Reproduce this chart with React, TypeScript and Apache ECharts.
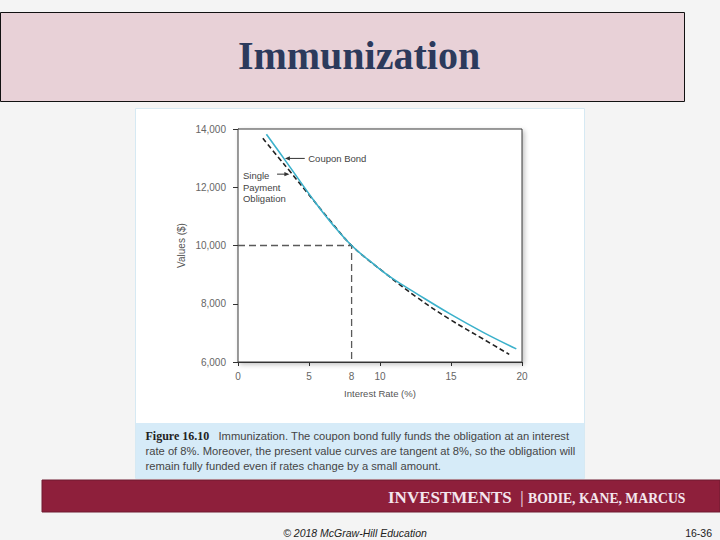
import React, { useEffect, useRef } from "react";
import * as echarts from "echarts";

// ---- Data ----
const couponRates = [2.0, 3.3, 5.5, 6.6, 8.0, 9.6, 10.9, 12.6, 14.9, 17.3, 19.6];
const couponValues = [13820, 12940, 11440, 10760, 10000, 9340, 8860, 8340, 7660, 7010, 6450];
const obligationRates = [1.75, 2.8, 3.6, 4.9, 6.5, 8.0, 10.2, 12.6, 14.9, 17.3, 19.1];
const obligationValues = [13680, 13050, 12580, 11800, 10850, 10000, 9110, 8220, 7470, 6780, 6260];
const refRates = [0, 8, 8];
const refValues = [10000, 10000, 6000];
const xLabelValues = [0, 5, 8, 10, 15, 20];
const xTickValues = [0, 5, 10, 15, 20];
const yMin = 6000;
const yMax = 14000;
const yStep = 2000;

// annotation anchors (data coordinates)
const couponArrowTip = [3.3, 12990];
const couponArrowTail = [4.7, 12990];
const obligationArrowTail = [2.75, 12450];
const obligationArrowTip = [3.62, 12450];
const obligationLabelAnchor = [0.35, 12390];

const SANS = "'Liberation Sans', Arial, sans-serif";
const SERIF = "'Liberation Serif', 'Times New Roman', serif";

export default function App() {
  const ref = useRef<HTMLDivElement>(null);
  useEffect(() => {
    const chart = echarts.init(ref.current!, undefined, { renderer: "svg" });

    const capFont = `11.2px ${SANS}`;
    const staticGraphics: any[] = [
      // title box
      { type: "rect", id: "titleBox", z: -10, shape: { x: 0.5, y: 12.5, width: 684, height: 89 }, style: { fill: "#e8d1d7", stroke: "#111", lineWidth: 1 } },
      { type: "text", id: "title", z: -9, x: 359, y: 55.5, style: { text: "Immunization", font: `bold 40px ${SERIF}`, fill: "#2c3a5c", align: "center", verticalAlign: "middle" } },
      // figure panel
      { type: "rect", id: "panel", z: -10, shape: { x: 135.5, y: 108.5, width: 449, height: 370 }, style: { fill: "#ffffff", stroke: "#d6e9f3", lineWidth: 1 } },
      { type: "rect", id: "caption", z: -9, shape: { x: 136, y: 423, width: 448, height: 55 }, style: { fill: "#d6ebf8" } },
      { type: "text", id: "figNum", z: -8, x: 145.5, y: 436, style: { text: "Figure 16.10", font: `bold 12px ${SERIF}`, fill: "#222", align: "left", verticalAlign: "middle" } },
      { type: "text", id: "cap1", z: -8, x: 218.5, y: 436.2, style: { text: "Immunization. The coupon bond fully funds the obligation at an interest", font: capFont, fill: "#454545", align: "left", verticalAlign: "middle" } },
      { type: "text", id: "cap2", z: -8, x: 145.5, y: 451.2, style: { text: "rate of 8%. Moreover, the present value curves are tangent at 8%, so the obligation will", font: capFont, fill: "#454545", align: "left", verticalAlign: "middle" } },
      { type: "text", id: "cap3", z: -8, x: 145.5, y: 466.2, style: { text: "remain fully funded even if rates change by a small amount.", font: capFont, fill: "#454545", align: "left", verticalAlign: "middle" } },
      // footer bar
      { type: "rect", id: "footer", z: -10, shape: { x: 42, y: 480, width: 678, height: 32 }, style: { fill: "#8e1f3b", stroke: "#6e1a30", lineWidth: 1 } },
      { type: "text", id: "inv", z: -8, x: 388, y: 497.3, style: { text: "INVESTMENTS", font: `bold 17px ${SERIF}`, fill: "#f4e6ee", align: "left", verticalAlign: "middle" } },
      { type: "text", id: "bar", z: -8, x: 522, y: 497.3, style: { text: "|", font: `17px ${SERIF}`, fill: "#f4e6ee", align: "center", verticalAlign: "middle" } },
      { type: "text", id: "authors", z: -8, x: 528, y: 498.4, style: { text: "BODIE, KANE, MARCUS", font: `bold 13.7px ${SERIF}`, fill: "#f4e6ee", align: "left", verticalAlign: "middle" } },
      // bottom line
      { type: "text", id: "copy", z: -8, x: 355, y: 533, style: { text: "© 2018 McGraw-Hill Education", font: `italic 10.5px ${SANS}`, fill: "#222", align: "center", verticalAlign: "middle" } },
      { type: "text", id: "page", z: -8, x: 712, y: 533, style: { text: "16-36", font: `10.5px ${SANS}`, fill: "#222", align: "right", verticalAlign: "middle" } },
    ];

    const pair = (xs: number[], ys: number[]) => xs.map((x, i) => [x, ys[i]]);

    chart.setOption({
      animation: false,
      backgroundColor: "#f4f4f4",
      grid: {
        left: 238, top: 129, width: 284, height: 233,
        show: true, backgroundColor: "#ffffff", borderColor: "#3a3a3a", borderWidth: 1,
        shadowColor: "rgba(0,0,0,0.25)", shadowBlur: 5, shadowOffsetX: 2, shadowOffsetY: 2,
        z: 2,
      },
      xAxis: {
        type: "value", min: 0, max: 20,
        name: "Interest Rate (%)", nameLocation: "middle", nameGap: 26,
        nameTextStyle: { color: "#555", fontSize: 9.5, fontFamily: SANS },
        axisLine: { show: true, onZero: false, lineStyle: { color: "#333", width: 1 } },
        axisTick: { show: true, customValues: xTickValues, length: 4, lineStyle: { color: "#333" } },
        axisLabel: { customValues: xLabelValues, color: "#666", fontSize: 10, margin: 9, fontFamily: SANS },
        splitLine: { show: false },
      },
      yAxis: {
        type: "value", min: yMin, max: yMax, interval: yStep,
        name: "Values ($)", nameLocation: "middle", nameGap: 52, nameRotate: 90,
        nameTextStyle: { color: "#555", fontSize: 10, fontFamily: SANS },
        axisLine: { show: true, lineStyle: { color: "#333", width: 1 } },
        axisTick: { show: true, length: 5, lineStyle: { color: "#333" } },
        axisLabel: { color: "#666", fontSize: 10, margin: 12, fontFamily: SANS, formatter: (v: number) => v.toLocaleString("en-US") },
        splitLine: { show: false },
      },
      series: [
        {
          name: "Reference", type: "line", data: pair(refRates, refValues), symbol: "none",
          lineStyle: { color: "#5a5a5a", width: 1.3, type: [7, 4] }, z: 3,
        },
        {
          name: "Single Payment Obligation", type: "line", data: pair(obligationRates, obligationValues), symbol: "none", smooth: 0.4,
          lineStyle: { color: "#222", width: 1.6, type: [5, 3] }, z: 4,
        },
        {
          name: "Coupon Bond", type: "line", data: pair(couponRates, couponValues), symbol: "none", smooth: 0.4,
          lineStyle: { color: "#3cb1cb", width: 1.6 }, z: 5,
        },
      ],
      graphic: { elements: staticGraphics },
    });

    const px = (d: number[]) => chart.convertToPixel({ gridIndex: 0 }, d) as number[];
    const cTip = px(couponArrowTip);
    const cTail = px(couponArrowTail);
    const oTail = px(obligationArrowTail);
    const oTip = px(obligationArrowTip);
    const oLab = px(obligationLabelAnchor);
    const head = 5;
    const hw = 2.2;
    const annotations: any[] = [
      { type: "line", id: "cArrow", z: 20, shape: { x1: cTail[0], y1: cTail[1], x2: cTip[0] + 2, y2: cTip[1] }, style: { stroke: "#333", lineWidth: 1 } },
      { type: "polygon", id: "cHead", z: 20, shape: { points: [[cTip[0], cTip[1]], [cTip[0] + head, cTip[1] - hw], [cTip[0] + head, cTip[1] + hw]] }, style: { fill: "#333" } },
      { type: "text", id: "cLabel", z: 20, x: cTail[0] + 3.5, y: cTail[1], style: { text: "Coupon Bond", font: `9.5px ${SANS}`, fill: "#444", align: "left", verticalAlign: "middle" } },
      { type: "line", id: "oArrow", z: 20, shape: { x1: oTail[0], y1: oTail[1], x2: oTip[0] - 2, y2: oTip[1] }, style: { stroke: "#333", lineWidth: 1 } },
      { type: "polygon", id: "oHead", z: 20, shape: { points: [[oTip[0], oTip[1]], [oTip[0] - head, oTip[1] - hw], [oTip[0] - head, oTip[1] + hw]] }, style: { fill: "#333" } },
      { type: "text", id: "oLabel", z: 20, x: oLab[0], y: oLab[1] - 5.65, style: { text: "Single\nPayment\nObligation", font: `9.5px ${SANS}`, lineHeight: 11.3, fill: "#444", align: "left", verticalAlign: "top" } },
    ];
    chart.setOption({ graphic: { elements: [...staticGraphics, ...annotations] } });

    return () => chart.dispose();
  }, []);
  return <div ref={ref} style={{ position: "absolute", left: 0, top: 0, width: 720, height: 540 }} />;
}
